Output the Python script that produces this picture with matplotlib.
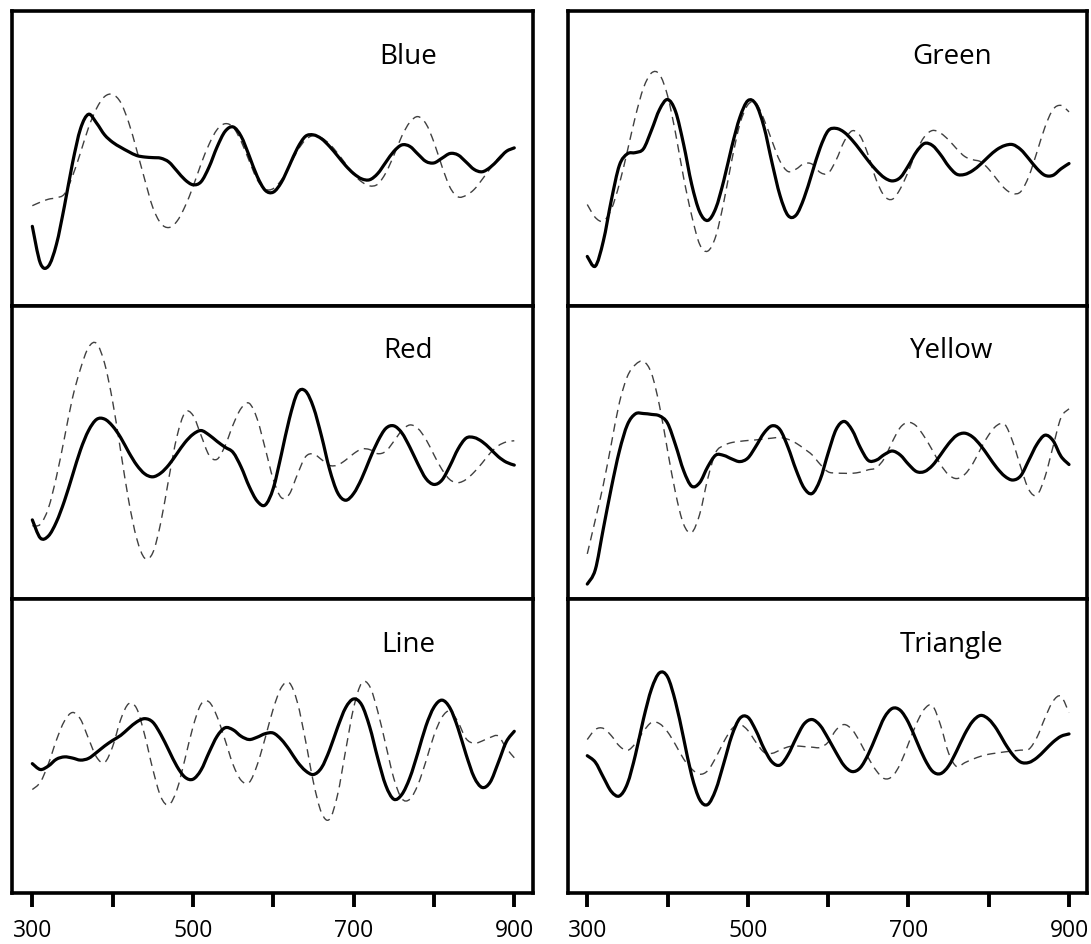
import matplotlib
matplotlib.use('Agg')
from matplotlib import pyplot as plt
from matplotlib.path import Path
from matplotlib.patches import PathPatch

# wavelength grid (nm), one reading every 10 nm
wavelength = list(range(300, 910, 10))

# values, in percent of panel height
blue_solid = [27, 14.5, 13.5, 20.9, 33.9, 48.4, 60.1, 65, 62, 58,
              55.5, 53.8, 52.3, 51, 50.5, 50.3, 50.1, 48.8, 45.8, 42.8,
              41.1, 42.1, 47.1, 53.9, 59.2, 60.7, 57.5, 50.9, 43.9, 39.2,
              38.6, 41.9, 47.6, 53.5, 57.5, 58, 56.7, 54.1, 50.9, 47.6,
              44.9, 43.1, 42.8, 44.9, 48.7, 52.4, 54.6, 54.1, 51.5, 49,
              48.5, 50.1, 51.7, 51.2, 48.8, 46.3, 45.5, 47, 49.6, 52.4,
              53.6]
blue_dashed = [34, 35.2, 36.2, 36.7, 38, 44, 52, 60.5, 67, 71,
               71.7, 69, 62.2, 52.8, 42.8, 33.4, 28, 26.6, 28.7, 33.7,
               40.4, 48.1, 54.8, 59.8, 61.8, 60.6, 55.8, 49.2, 42.8, 39.6,
               39.8, 42.7, 47.4, 52.6, 56.3, 57.8, 57, 54.9, 51.8, 48.2,
               44.6, 42.1, 40.7, 41.3, 45.1, 51, 57.6, 62.3, 64.2, 61.8,
               55.5, 47.3, 40.2, 37, 37.5, 39.5, 42.9, 46.6, 50.1, 52.6,
               53.6]

green_solid = [16.8, 13.5, 22, 35.9, 47.7, 51.6, 52, 53.3, 59.6, 66.6,
               70, 65.9, 54.8, 41.3, 31.9, 29, 33.1, 42.5, 54, 63.9,
               69.6, 68.4, 60.8, 48.7, 37.5, 30.7, 30.8, 36.6, 45.1, 53.6,
               59.4, 60.2, 58.9, 56.2, 52.8, 49.2, 46, 43.5, 42.4, 43.6,
               47.6, 52.3, 55.1, 54.4, 51.3, 47.4, 44.7, 44.6, 45.9, 48.1,
               50.7, 53, 54.4, 54.7, 53, 49.9, 46.6, 44.3, 44.3, 46.5,
               48.3]
green_dashed = [34.4, 30, 28.8, 32.8, 41.4, 52.6, 64.3, 73.9, 79, 78.5,
                71.3, 58.5, 43.5, 30.7, 20.9, 18.6, 23.6, 35.2, 49.4, 61.6,
                68.2, 68.8, 63.3, 56, 49.1, 45.6, 46.4, 48.3, 48.1, 45.3,
                45, 49.5, 55.8, 59.4, 57.6, 51.1, 42.7, 37.3, 36.2, 39.8,
                45.7, 52.5, 57.4, 59.5, 58.6, 56.3, 53.3, 50.7, 49.6, 48.9,
                46.4, 43, 39.8, 38.1, 38.8, 44, 52.1, 60.6, 66.6, 68,
                65.8]

red_solid = [27, 20.8, 21.5, 26.3, 33.5, 42.2, 50.9, 57.5, 61.3, 61.4,
             59, 55.1, 50.1, 45.7, 42.7, 41.7, 43, 45.8, 49.6, 53.4,
             56.2, 57.5, 56, 53.8, 51.8, 50, 45, 38.4, 33.4, 32.1,
             37.8, 49.3, 61.5, 70.3, 71, 65.4, 55.6, 44.3, 36.3, 33.7,
             36, 41.1, 47.7, 53.8, 58.2, 59.1, 56.7, 51.8, 46.1, 41.1,
             39.1, 40.6, 45.5, 51.2, 54.9, 55.1, 53.7, 51.3, 48.6, 46.7,
             45.7]
red_dashed = [25, 25.5, 31, 41.7, 55, 68.6, 78.6, 85.9, 87.2, 80.4,
              67.4, 50.5, 33.5, 20.6, 13.9, 15.8, 26.2, 41.3, 55.4, 63.6,
              62.7, 55.9, 49.1, 47.7, 52.3, 59.5, 65.1, 66.8, 61.4, 51.3,
              40.8, 34.6, 35.8, 42.5, 48.5, 49.5, 47.6, 45.6, 45.7, 47.4,
              49.6, 51.2, 51, 49.6, 50.4, 53.8, 57.5, 59.4, 58.2, 54.5,
              49.2, 44.2, 40.7, 39.7, 40.8, 43.3, 46.4, 49.8, 52.3, 53.6,
              54]

yellow_solid = [5.1, 10, 24, 38, 50.5, 59.5, 63.2, 63.3, 63, 62.5,
                60, 52.5, 43.8, 38.5, 39.7, 45.1, 49.1, 49, 47.8, 46.9,
                48.1, 52.1, 56.6, 59.1, 57.8, 51.8, 44.1, 37.9, 36, 40.7,
                49.8, 57.9, 60.6, 57.6, 51.7, 47.3, 47.4, 49.3, 50.5, 49.1,
                46, 43.5, 43.5, 45.6, 49.2, 53, 55.8, 56.6, 55.3, 52.4,
                48.6, 44.8, 41.9, 40.6, 42.1, 47.4, 52.8, 55.9, 54.1, 48.7,
                45.9]
yellow_dashed = [15.4, 27, 39, 53, 67, 76, 80, 81.1, 77, 65.9,
                 50.7, 36.1, 25.5, 22.7, 28.9, 41, 50, 52.4, 53.4, 53.8,
                 54.1, 54.3, 54.6, 54.9, 55.1, 54.5, 53.2, 51.3, 49.2, 46,
                 43.4, 43, 42.9, 42.9, 43.3, 44.1, 44.8, 48, 53.7, 58.6,
                 60.3, 59, 55.3, 50.7, 45.9, 42.4, 41.1, 42.5, 46.1, 51.3,
                 56, 59.2, 59.6, 53.6, 44.9, 37.3, 35.5, 41.6, 51.9, 61.9,
                 64.9]

line_solid = [44, 42, 43.2, 45.5, 46.3, 45.9, 45.2, 45.8, 47.8, 50,
              51.9, 53.6, 56, 58.2, 59.3, 58.1, 53.9, 48.5, 43.1, 39.4,
              38.7, 41.8, 47.8, 53.3, 56.2, 55.5, 53.3, 52.2, 53, 54.2,
              54.4, 52.2, 48.7, 44.6, 41.6, 40.3, 42.6, 48.6, 56.3, 63,
              66, 64, 56.5, 45.9, 36.6, 31.9, 33.5, 39.2, 47.7, 56.8,
              63.2, 65.6, 62.9, 56, 47.1, 39.4, 35.9, 37.7, 44.3, 51.4,
              55]
line_dashed = [35.2, 37.7, 43.9, 52, 58.5, 61.4, 59.1, 52.5, 46.2, 44.4,
               49.8, 59, 64.4, 62.7, 53.6, 42.1, 32.7, 30, 35.1, 45.5,
               56.5, 64.2, 65, 60, 52, 43.6, 38.3, 37.6, 43.6, 52.8,
               62.7, 69.9, 71.5, 64.8, 52, 37.6, 27.3, 25.1, 33.4, 48.4,
               63, 71.4, 70.3, 61.8, 50.4, 39, 32.1, 31.9, 36.8, 44.8,
               53.6, 59.8, 61.9, 58.1, 52.5, 50.9, 51.7, 52.9, 53.4, 49.3,
               46]

triangle_solid = [46.7, 44.5, 39.4, 34.5, 33, 37.2, 47, 59.2, 69.4, 74.9,
                  73.5, 64.9, 52.6, 40, 31.8, 30.1, 35.1, 44.1, 53.5, 59.4,
                  59.8, 55.3, 49.2, 44.6, 43.5, 47, 52.6, 57.5, 59, 57,
                  52.6, 47.7, 43.3, 41.3, 42.6, 47.2, 53.5, 59.7, 62.8, 62.1,
                  58, 51.8, 45.7, 41.4, 40.6, 43.2, 48.3, 54, 58.4, 60.4,
                  59.1, 55.7, 51, 47, 44.5, 44.4, 46, 48.6, 51.3, 53.3,
                  54.1]
triangle_dashed = [52.2, 55.6, 56, 53.5, 50, 48.5, 50.9, 55, 58, 57.6,
                   54.8, 50.4, 45.6, 42.2, 40.4, 41.6, 46, 51.4, 55.8, 57.3,
                   55.3, 51.3, 47.9, 47.5, 48.6, 49.7, 50, 49.8, 49.6, 49.5,
                   51.3, 55.5, 57.3, 55.5, 51.2, 46, 41.6, 38.9, 39.7, 44,
                   50.8, 57.6, 62.6, 63.7, 57.1, 47.6, 43, 44.3, 45.5, 46.5,
                   47.2, 47.6, 48, 48.3, 48.6, 48.9, 52.9, 59.5, 65.2, 66.9,
                   61.3]

panel_names = ['Blue', 'Red', 'Line', 'Green', 'Yellow', 'Triangle']
solid_series = [blue_solid, red_solid, line_solid,
                green_solid, yellow_solid, triangle_solid]
dashed_series = [blue_dashed, red_dashed, line_dashed,
                 green_dashed, yellow_dashed, triangle_dashed]
tick_values = [300, 400, 500, 600, 700, 800, 900]
tick_labels = ['300', '', '500', '', '700', '', '900']


def smooth_curve(xs, ys):
    # curved path through the readings (Catmull-Rom as cubic Bezier)
    n = len(xs)
    verts = [(xs[0], ys[0])]
    codes = [Path.MOVETO]
    for k in range(n - 1):
        a, b = max(k - 1, 0), min(k + 2, n - 1)
        c1 = (xs[k] + (xs[k + 1] - xs[a]) / 6, ys[k] + (ys[k + 1] - ys[a]) / 6)
        c2 = (xs[k + 1] - (xs[b] - xs[k]) / 6, ys[k + 1] - (ys[b] - ys[k]) / 6)
        verts += [c1, c2, (xs[k + 1], ys[k + 1])]
        codes += [Path.CURVE4] * 3
    return Path(verts, codes)


plt.rcParams['font.family'] = ['Open Sans', 'DejaVu Sans']

W, H = 1091, 944
fig = plt.figure(figsize=(W / 100, H / 100), dpi=100)
fig.patch.set_facecolor('white')

# pixel boxes of the panels
cols = [(12, 533), (568, 1087)]
rows = [(11, 306), (306, 599), (599, 893)]
col_xlim = [(274.7, 923.3), (276, 922.4)]
label_x = [0.76, 0.74]

for i, name in enumerate(panel_names):
    c, r = divmod(i, 3)
    x0, x1 = cols[c]
    y0, y1 = rows[r]
    ax = fig.add_axes([x0 / W, 1 - y1 / H, (x1 - x0) / W, (y1 - y0) / H])
    ax.add_patch(PathPatch(smooth_curve(wavelength, dashed_series[i]),
                           fill=False, edgecolor='#404040', lw=1.0,
                           linestyle=(0, (6, 4))))
    ax.add_patch(PathPatch(smooth_curve(wavelength, solid_series[i]),
                           fill=False, edgecolor='black', lw=2.3,
                           joinstyle='round', capstyle='round'))
    ax.set_xlim(*col_xlim[c])
    ax.set_ylim(0, 100)
    ax.set_yticks([])
    for sp in ax.spines.values():
        sp.set_linewidth(2.6)
        sp.set_color('black')
    ax.text(label_x[c], 0.845, name, transform=ax.transAxes,
            ha='center', va='center', fontsize=20)
    if r == 2:
        ax.set_xticks(tick_values)
        ax.set_xticklabels(tick_labels)
        ax.tick_params(axis='x', direction='out', length=10, width=2.8,
                       labelsize=16.5, pad=9)
    else:
        ax.set_xticks([])

fig.savefig('out.png', dpi=100, facecolor='white')
